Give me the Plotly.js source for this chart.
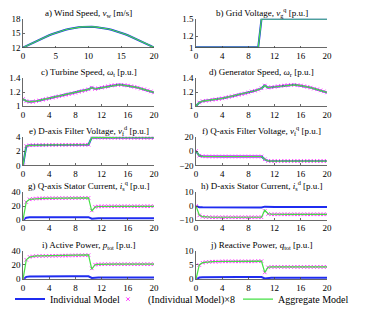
<!DOCTYPE html>
<html>
<head>
<meta charset="utf-8">
<script src="https://cdn.plot.ly/plotly-3.0.1.min.js"></script>
<style>html,body{margin:0;padding:0;background:#fff;}#chart{width:391px;height:314px;}</style>
</head>
<body>
<div id="chart"></div>
<script>
// ---- Data ----
const time = [0,0.5,1,1.5,2,2.5,3,3.5,4,4.5,5,5.5,6,6.5,7,7.5,8,8.5,9,9.5,10,
  10.5,11,11.5,12,12.5,13,13.5,14,14.5,15,15.5,16,16.5,17,17.5,18,18.5,19,19.5,20];

const panelTitles = [
  "a) Wind Speed, <i>v</i><sub>w</sub> [m/s]",
  "b) Grid Voltage, <i>v</i><sub>g</sub><sup>q</sup> [p.u.]",
  "c) Turbine Speed, <i>ω</i><sub>t</sub> [p.u.]",
  "d) Generator Speed, <i>ω</i><sub>r</sub> [p.u.]",
  "e) D-axis Filter Voltage, <i>v</i><sub>f</sub><sup>d</sup> [p.u.]",
  "f) Q-axis Filter Voltage, <i>v</i><sub>f</sub><sup>q</sup> [p.u.]",
  "g) Q-axis Stator Current, <i>i</i><sub>s</sub><sup>q</sup> [p.u.]",
  "h) D-axis Stator Current, <i>i</i><sub>s</sub><sup>d</sup> [p.u.]",
  "i) Active Power, <i>p</i><sub>tot</sub> [p.u.]",
  "j) Reactive Power, <i>q</i><sub>tot</sub> [p.u.]"
];

const yTicks = [[12,15,18],[1,1.2,1.5],[1,1.2,1.4],[1,1.2,1.4],[0,2,4],[-20,0,20],[0,20,40],[-10,0,10],[0,20,40],[0,5,10]];
const xTicksA = [0,5,10,15,20];
const xTicks = [0,4,8,12,16,20];

const windSpeed = [12,12.34,12.68,13.02,13.34,13.66,13.97,14.27,14.56,14.83,15.08,15.31,15.52,15.71,15.87,16.02,16.14,16.23,16.30,16.34,16.35,
  16.34,16.30,16.23,16.14,16.02,15.87,15.71,15.52,15.31,15.08,14.83,14.56,14.27,13.97,13.66,13.34,13.02,12.68,12.34,12.0];

const gridVoltage = [1.005,1.005,1.005,1.005,1.005,1.005,1.005,1.005,1.005,1.005,1.005,1.005,1.005,1.005,1.005,1.005,1.005,1.005,1.005,1.005,1.5,
  1.5,1.5,1.5,1.5,1.5,1.5,1.5,1.5,1.5,1.5,1.5,1.5,1.5,1.5,1.5,1.5,1.5,1.5,1.5,1.5];

const turbineSpeed = [1.10,1.07,1.06,1.06,1.07,1.08,1.09,1.10,1.11,1.12,1.13,1.14,1.15,1.16,1.17,1.18,1.19,1.205,1.215,1.225,1.24,
  1.265,1.245,1.255,1.265,1.275,1.285,1.295,1.30,1.305,1.305,1.30,1.295,1.285,1.275,1.265,1.25,1.24,1.225,1.21,1.195];

const generatorSpeed = [1.00,1.05,1.07,1.075,1.08,1.09,1.095,1.10,1.11,1.12,1.13,1.14,1.15,1.16,1.17,1.18,1.195,1.21,1.22,1.235,1.255,
  1.295,1.265,1.27,1.275,1.285,1.29,1.295,1.30,1.305,1.305,1.30,1.295,1.285,1.275,1.265,1.25,1.24,1.225,1.21,1.195];

const vfd = [0,2.7,2.8,2.82,2.83,2.83,2.84,2.84,2.85,2.85,2.85,2.86,2.86,2.86,2.87,2.87,2.87,2.87,2.88,2.88,2.88,
  3.9,3.88,3.87,3.87,3.86,3.86,3.86,3.86,3.85,3.85,3.85,3.85,3.85,3.85,3.85,3.85,3.85,3.85,3.85,3.85];

const vfq = [0,-6.5,-7.3,-7.5,-7.6,-7.6,-7.6,-7.6,-7.6,-7.6,-7.6,-7.6,-7.6,-7.6,-7.6,-7.6,-7.6,-7.6,-7.6,-7.6,-7.6,
  -11.5,-13.8,-14,-14,-14,-14,-14,-14,-14,-14,-14,-14,-14,-14,-14,-14,-14,-14,-14,-14];

const isqInd = [0,3.2,3.7,3.8,3.85,3.87,3.88,3.89,3.9,3.9,3.91,3.91,3.92,3.92,3.93,3.93,3.94,3.94,3.95,3.95,3.96,
  1.7,2.35,2.42,2.44,2.45,2.45,2.45,2.45,2.45,2.45,2.45,2.45,2.45,2.45,2.45,2.45,2.45,2.45,2.45,2.45];
const isqAgg = [0,26,29.5,30.3,30.6,30.8,30.9,31.0,31.0,31.1,31.1,31.2,31.2,31.3,31.3,31.4,31.4,31.5,31.5,31.6,31.6,
  12.5,18.5,19.3,19.5,19.5,19.5,19.5,19.5,19.5,19.5,19.5,19.5,19.5,19.5,19.5,19.5,19.5,19.5,19.5,19.5];

const isdInd = [0,-0.85,-0.97,-1.0,-1.01,-1.02,-1.02,-1.02,-1.02,-1.02,-1.02,-1.02,-1.02,-1.02,-1.02,-1.02,-1.02,-1.02,-1.02,-1.02,-1.02,
  -0.45,-0.72,-0.75,-0.75,-0.75,-0.75,-0.75,-0.75,-0.75,-0.75,-0.75,-0.75,-0.75,-0.75,-0.75,-0.75,-0.75,-0.75,-0.75,-0.75];
const isdAgg = [0,-6.5,-7.7,-8.0,-8.1,-8.1,-8.1,-8.1,-8.1,-8.1,-8.1,-8.1,-8.1,-8.1,-8.1,-8.1,-8.1,-8.1,-8.1,-8.1,-8.1,
  -3.0,-5.6,-5.9,-6.0,-6.0,-6.0,-6.0,-6.0,-6.0,-6.0,-6.0,-6.0,-6.0,-6.0,-6.0,-6.0,-6.0,-6.0,-6.0,-6.0];

const ptInd = [0,3.4,3.9,4.0,4.03,4.05,4.06,4.07,4.08,4.09,4.1,4.11,4.12,4.13,4.14,4.15,4.16,4.17,4.18,4.19,4.2,
  1.9,2.55,2.6,2.62,2.63,2.63,2.63,2.63,2.63,2.63,2.63,2.63,2.63,2.63,2.63,2.63,2.63,2.63,2.63,2.63];
const ptAgg = [0,27,31,32.2,32.5,32.6,32.7,32.8,32.9,33.0,33.0,33.1,33.2,33.3,33.4,33.5,33.6,33.7,33.7,33.8,33.9,
  14,20.3,20.8,21.0,21.0,21.0,21.0,21.0,21.0,21.0,21.0,21.0,21.0,21.0,21.0,21.0,21.0,21.0,21.0,21.0];

const qtInd = [0,0.62,0.72,0.75,0.76,0.77,0.77,0.77,0.78,0.78,0.78,0.78,0.78,0.78,0.78,0.78,0.78,0.78,0.78,0.79,0.79,
  0.3,0.52,0.54,0.54,0.54,0.54,0.54,0.54,0.54,0.54,0.54,0.54,0.54,0.54,0.54,0.54,0.54,0.54,0.54,0.54];
const qtAgg = [0,5.0,5.8,6.0,6.1,6.15,6.2,6.2,6.2,6.2,6.2,6.2,6.2,6.25,6.25,6.25,6.25,6.3,6.3,6.3,6.3,
  2.4,4.2,4.3,4.3,4.3,4.3,4.3,4.3,4.3,4.3,4.3,4.3,4.3,4.3,4.3,4.3,4.3,4.3,4.3,4.3];

// individual series, aggregate series, scale for magenta markers (null = no markers)
const panels = [
  {ind: windSpeed, agg: windSpeed, scale: null},
  {ind: gridVoltage, agg: gridVoltage, scale: null},
  {ind: turbineSpeed, agg: turbineSpeed, scale: 1},
  {ind: generatorSpeed, agg: generatorSpeed, scale: 1},
  {ind: vfd, agg: vfd, scale: 1},
  {ind: vfq, agg: vfq, scale: 1},
  {ind: isqInd, agg: isqAgg, scale: 8},
  {ind: isdInd, agg: isdAgg, scale: 8},
  {ind: ptInd, agg: ptAgg, scale: 8},
  {ind: qtInd, agg: qtAgg, scale: 8}
];

// ---- Layout geometry ----
const W = 391, H = 314;
const colX = [[23, 154], [196, 327]];
const rowY = [[19, 48], [79, 107], [138, 167], [194, 222], [253, 282]];

const BLUE = '#1f2cf0', MAGENTA = '#ff3cff', GREEN = '#45e045';
const FONT = 'Liberation Serif, "DejaVu Serif", serif';

const legendBase = {orientation: 'h', y: (H - 302) / H, xanchor: 'left', yanchor: 'middle',
  font: {family: FONT, size: 10, color: '#000'}, bgcolor: 'rgba(0,0,0,0)', itemwidth: 30};

const traces = [];
const layout = {
  width: W, height: H,
  margin: {l: 0, r: 0, t: 0, b: 0, pad: 0},
  paper_bgcolor: '#fff', plot_bgcolor: '#fff',
  font: {family: FONT, size: 9, color: '#000'},
  showlegend: true,
  legend: Object.assign({}, legendBase, {x: 10 / W}),
  legend2: Object.assign({}, legendBase, {x: 108 / W}),
  legend3: Object.assign({}, legendBase, {x: 238 / W}),
  annotations: []
};

panels.forEach((p, i) => {
  const col = i % 2, row = Math.floor(i / 2);
  const sfx = i === 0 ? '' : String(i + 1);
  const xa = 'x' + sfx, ya = 'y' + sfx;
  const legendPanel = (i === 6);
  traces.push({x: time, y: p.ind, xaxis: xa, yaxis: ya, type: 'scatter', mode: 'lines',
    line: {color: BLUE, width: 2}, name: 'Individual Model', showlegend: legendPanel, legend: 'legend'});
  if (p.scale !== null) {
    traces.push({x: time, y: p.ind.map(v => v * p.scale), xaxis: xa, yaxis: ya, type: 'scatter', mode: 'markers',
      marker: {symbol: 'x-thin', size: 3.5, color: MAGENTA, line: {color: MAGENTA, width: 1}},
      name: '(Individual Model)×8', showlegend: legendPanel, legend: 'legend2'});
  }
  traces.push({x: time, y: p.agg, xaxis: xa, yaxis: ya, type: 'scatter', mode: 'lines',
    line: {color: GREEN, width: 1.2}, name: 'Aggregate Model', showlegend: legendPanel, legend: 'legend3'});

  const yt = yTicks[i];
  const xd = [colX[col][0] / W, colX[col][1] / W];
  const yd = [1 - rowY[row][1] / H, 1 - rowY[row][0] / H];
  const axCommon = {showline: true, linecolor: '#444', linewidth: 0.8, ticks: 'inside', ticklen: 2,
    tickcolor: '#444', tickwidth: 0.8, showgrid: false, zeroline: false, mirror: false,
    tickfont: {family: FONT, size: 9, color: '#000'}, fixedrange: true};
  layout['xaxis' + sfx] = Object.assign({}, axCommon, {domain: xd, anchor: ya, range: [0, 20],
    tickmode: 'array', tickvals: i === 0 ? xTicksA : xTicks, ticktext: (i === 0 ? xTicksA : xTicks).map(String)});
  layout['yaxis' + sfx] = Object.assign({}, axCommon, {domain: yd, anchor: xa, range: [yt[0], yt[yt.length - 1]],
    tickmode: 'array', tickvals: yt, ticktext: yt.map(v => v < 0 ? '\u2212' + Math.abs(v) : String(v))});
  layout.annotations.push({text: panelTitles[i], xref: 'paper', yref: 'paper', x: (xd[0] + xd[1]) / 2, y: yd[1],
    xanchor: 'center', yanchor: 'bottom', yshift: -2, showarrow: false, font: {family: FONT, size: 9, color: '#000'}});
});

Plotly.newPlot('chart', traces, layout, {staticPlot: true, displayModeBar: false});
</script>
</body>
</html>
